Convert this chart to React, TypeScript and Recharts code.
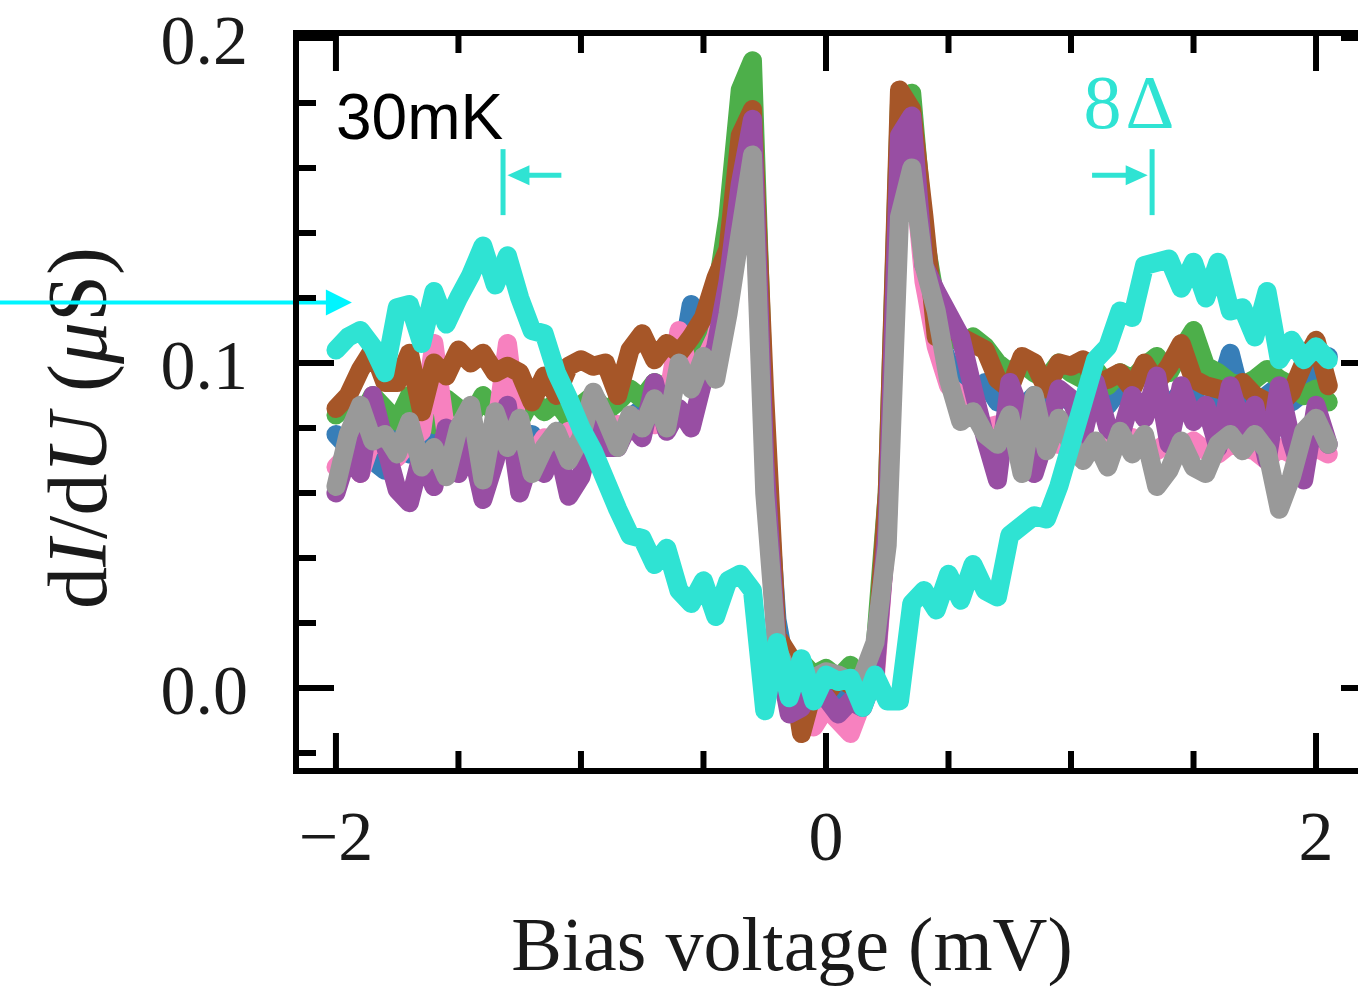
import { LineChart, Line, XAxis, YAxis, ReferenceLine } from "recharts";

// bias voltage grid (mV)
const bias = [
  -2.0, -1.95, -1.9, -1.85, -1.8, -1.75, -1.7, -1.65, -1.6, -1.55,
  -1.5, -1.45, -1.4, -1.35, -1.3, -1.25, -1.2, -1.15, -1.1, -1.05,
  -1.0, -0.95, -0.9, -0.85, -0.8, -0.75, -0.7, -0.65, -0.6, -0.55,
  -0.5, -0.45, -0.4, -0.35, -0.3, -0.25, -0.2, -0.15, -0.1, -0.05,
  0, 0.05, 0.1, 0.15, 0.2, 0.25, 0.3, 0.35, 0.4, 0.45,
  0.5, 0.55, 0.6, 0.65, 0.7, 0.75, 0.8, 0.85, 0.9, 0.95,
  1.0, 1.05, 1.1, 1.15, 1.2, 1.25, 1.3, 1.35, 1.4, 1.45,
  1.5, 1.55, 1.6, 1.65, 1.7, 1.75, 1.8, 1.85, 1.9, 1.95,
  2.0, 2.05,
];

// dI/dU traces (µS)
const blue = [
  0.078, 0.074, 0.08, 0.07, 0.067, 0.078, 0.072, 0.08, 0.075, 0.07,
  0.079, 0.073, 0.077, 0.071, 0.08, 0.074, 0.078, 0.072, 0.077, 0.081,
  0.075, 0.08, 0.084, 0.078, 0.083, 0.086, 0.085, 0.09, 0.096, 0.118,
  0.105, 0.11, 0.128, 0.15, 0.17, 0.075, 0.021, 0.0, 0.003, -0.004,
  0.002, 0.0, -0.003, 0.002, 0.006, 0.05, 0.16, 0.17, 0.13, 0.11,
  0.1, 0.098, 0.09, 0.094, 0.088, 0.092, 0.086, 0.09, 0.087, 0.091,
  0.088, 0.085, 0.09, 0.087, 0.092, 0.088, 0.085, 0.09, 0.087, 0.091,
  0.089, 0.086, 0.09, 0.103, 0.088, 0.085, 0.09, 0.093, 0.088, 0.091,
  0.1, 0.102,
];
const green = [
  0.084, 0.088, 0.083, 0.09, 0.086, 0.082, 0.09, 0.085, 0.081, 0.089,
  0.086, 0.083, 0.09, 0.084, 0.087, 0.082, 0.089, 0.085, 0.088, 0.083,
  0.087, 0.09, 0.085, 0.088, 0.092, 0.089, 0.094, 0.092, 0.097, 0.102,
  0.108, 0.12, 0.145, 0.184, 0.193, 0.08, 0.012, 0.005, 0.008, 0.004,
  0.006, 0.003, 0.007, 0.0, 0.012, 0.06, 0.18, 0.183, 0.14, 0.118,
  0.112, 0.106, 0.108, 0.105, 0.1, 0.097, 0.1, 0.097, 0.095, 0.1,
  0.097, 0.095, 0.098, 0.093, 0.097, 0.095, 0.099, 0.102, 0.097, 0.104,
  0.11, 0.099, 0.097, 0.094, 0.093, 0.095, 0.098, 0.095, 0.093, 0.09,
  0.092, 0.088,
];
const pink = [
  0.068, 0.072, 0.066, 0.077, 0.074, 0.071, 0.076, 0.079, 0.106, 0.078,
  0.073, 0.076, 0.072, 0.078, 0.106, 0.075, 0.071, 0.077, 0.074, 0.079,
  0.075, 0.08, 0.078, 0.081, 0.079, 0.083, 0.081, 0.087, 0.11, 0.095,
  0.1, 0.108, 0.122, 0.15, 0.165, 0.07, 0.01, 0.004, 0.0, -0.012,
  -0.006, -0.01, -0.014, -0.004, 0.002, 0.05, 0.16, 0.165, 0.125, 0.105,
  0.093, 0.09, 0.084, 0.08, 0.081, 0.078, 0.08, 0.076, 0.078, 0.075,
  0.077, 0.075, 0.074, 0.076, 0.075, 0.077, 0.074, 0.073, 0.076, 0.074,
  0.076, 0.073, 0.072, 0.075, 0.074, 0.073, 0.07, 0.074, 0.072, 0.071,
  0.074, 0.072,
];
const brown = [
  0.086, 0.09, 0.098, 0.104, 0.094, 0.094, 0.103, 0.085, 0.1, 0.096,
  0.104, 0.1, 0.103, 0.097, 0.099, 0.097, 0.088, 0.096, 0.09, 0.099,
  0.101, 0.099, 0.1, 0.09, 0.104, 0.109, 0.101, 0.106, 0.103, 0.108,
  0.114, 0.126, 0.135, 0.17, 0.178, 0.09, 0.016, 0.01, -0.014, 0.0,
  -0.002, 0.003, 0.001, -0.004, 0.005, 0.06, 0.184, 0.178, 0.145, 0.108,
  0.113, 0.108, 0.106, 0.104, 0.095, 0.092, 0.102, 0.1, 0.092, 0.1,
  0.099, 0.101, 0.094, 0.095, 0.097, 0.092, 0.1, 0.094, 0.099, 0.106,
  0.095, 0.093, 0.092, 0.091, 0.094, 0.09, 0.088, 0.087, 0.091, 0.1,
  0.107, 0.093,
];
const purple = [
  0.06, 0.072, 0.066, 0.09, 0.075, 0.061, 0.057, 0.072, 0.062, 0.08,
  0.066, 0.075, 0.058, 0.07, 0.087, 0.06, 0.072, 0.066, 0.076, 0.059,
  0.065, 0.08, 0.074, 0.074, 0.082, 0.077, 0.094, 0.079, 0.086, 0.08,
  0.095, 0.105, 0.125, 0.155, 0.175, 0.07, 0.012, -0.008, -0.006, 0.002,
  -0.003, -0.008, -0.004, -0.006, 0.004, 0.05, 0.17, 0.176, 0.13, 0.122,
  0.115, 0.108, 0.092, 0.077, 0.064, 0.094, 0.084, 0.066, 0.078, 0.092,
  0.089, 0.078, 0.094, 0.08, 0.077, 0.09, 0.083, 0.096, 0.075, 0.093,
  0.082, 0.087, 0.074, 0.093, 0.08, 0.087, 0.07, 0.093, 0.076, 0.064,
  0.087, 0.075,
];
const gray = [
  0.062, 0.078, 0.087, 0.076, 0.078, 0.072, 0.082, 0.068, 0.074, 0.065,
  0.08, 0.087, 0.064, 0.085, 0.074, 0.083, 0.066, 0.074, 0.079, 0.07,
  0.077, 0.091, 0.083, 0.074, 0.084, 0.08, 0.089, 0.08, 0.1, 0.092,
  0.102, 0.095, 0.115, 0.14, 0.164, 0.06, 0.012, 0.004, 0.004, 0.003,
  0.005, 0.004, 0.002, 0.004, 0.014, 0.044, 0.145, 0.16, 0.13, 0.116,
  0.095, 0.082, 0.085, 0.078, 0.075, 0.084, 0.066, 0.09, 0.073, 0.083,
  0.075, 0.07, 0.076, 0.068, 0.079, 0.072, 0.078, 0.062, 0.067, 0.076,
  0.068, 0.066, 0.075, 0.078, 0.073, 0.078, 0.073, 0.055, 0.065, 0.079,
  0.083, 0.075,
];
const cyan = [
  0.104, 0.108, 0.11, 0.105, 0.097, 0.117, 0.118, 0.106, 0.122, 0.112,
  0.12, 0.127, 0.136, 0.124, 0.133, 0.12, 0.11, 0.109, 0.097, 0.089,
  0.08, 0.073, 0.064, 0.055, 0.047, 0.046, 0.038, 0.043, 0.03, 0.026,
  0.033, 0.022, 0.033, 0.035, 0.03, -0.007, 0.014, -0.003, 0.009, -0.004,
  0.004, 0.002, 0.003, -0.006, 0.004, -0.004, -0.004, 0.026, 0.03, 0.024,
  0.035, 0.027, 0.038, 0.03, 0.028, 0.047, 0.05, 0.053, 0.052, 0.062,
  0.075, 0.088, 0.101, 0.105, 0.116, 0.114, 0.13, 0.131, 0.132, 0.123,
  0.131, 0.12, 0.131, 0.116, 0.117, 0.108, 0.122, 0.101, 0.107, 0.101,
  0.105, 0.101,
];

const xTicks = [-2, -1.5, -1, -0.5, 0, 0.5, 1, 1.5, 2];
const yTicks = [-0.02, 0, 0.02, 0.04, 0.06, 0.08, 0.1, 0.12, 0.14, 0.16, 0.18, 0.2];
const xTickLabels: Record<string, string> = { "-2": "\u22122", "0": "0", "2": "2" };
const yTickLabels: Record<string, string> = { "0": "0.0", "0.1": "0.1", "0.2": "0.2" };

const data = bias.map((x, i) => ({
  x,
  blue: blue[i],
  green: green[i],
  pink: pink[i],
  brown: brown[i],
  purple: purple[i],
  gray: gray[i],
  cyan: cyan[i],
}));

const series = [
  { key: "blue", color: "#377eb8" },
  { key: "green", color: "#4daf4a" },
  { key: "pink", color: "#f781bf" },
  { key: "brown", color: "#a65628" },
  { key: "purple", color: "#984ea3" },
  { key: "gray", color: "#999999" },
  { key: "cyan", color: "#2fe3d3" },
];

const TURQ = "#2fe3d3";
const SERIF = "'Liberation Serif', 'DejaVu Serif', serif";
const MAJOR = 38;
const MINOR = 20;
const TICK_W = 6;
const LINE_W = 19;
const X_DOMAIN: [number, number] = [-2.163, 2.257];
const Y_DOMAIN: [number, number] = [-0.02554, 0.20154];

const isMajorX = (v: number) => Math.abs(v / 2 - Math.round(v / 2)) < 1e-6;
const isMajorY = (v: number) => Math.abs(v * 10 - Math.round(v * 10)) < 1e-6;

const BottomTick = ({ x, y, payload }: any) => {
  const major = isMajorX(payload.value);
  const label = xTickLabels[String(payload.value)];
  return (
    <g>
      <line x1={x} x2={x} y1={y} y2={y - (major ? MAJOR : MINOR)} stroke="#000" strokeWidth={TICK_W} />
      {label && (
        <text x={x} y={y + 89} textAnchor="middle" fontFamily={SERIF} fontSize={70} fill="#1a1a1a">
          {label}
        </text>
      )}
    </g>
  );
};

const TopTick = ({ x, y, payload }: any) => {
  const major = isMajorX(payload.value);
  return <line x1={x} x2={x} y1={y} y2={y + (major ? MAJOR : MINOR)} stroke="#000" strokeWidth={TICK_W} />;
};

const LeftTick = ({ x, y, payload }: any) => {
  const major = isMajorY(payload.value);
  const label = yTickLabels[String(payload.value)];
  return (
    <g>
      <line x1={x} x2={x + (major ? MAJOR : MINOR)} y1={y} y2={y} stroke="#000" strokeWidth={TICK_W} />
      {label && (
        <text x={x - 48} y={y + 26} textAnchor="end" fontFamily={SERIF} fontSize={70} fill="#1a1a1a">
          {label}
        </text>
      )}
    </g>
  );
};

const RightTick = ({ x, y, payload }: any) => {
  const major = isMajorY(payload.value);
  return <line x1={x} x2={x - (major ? MAJOR : MINOR)} y1={y} y2={y} stroke="#000" strokeWidth={TICK_W} />;
};

// horizontal arrow drawn from (x1,y1) to the tip (x2,y2)
const Arrow = (p: any) => {
  const { x1, y1, x2, y2, stroke, strokeWidth } = p;
  const dir = x2 > x1 ? 1 : -1;
  const head = p.head ?? 22;
  const half = p.half ?? 10;
  return (
    <g>
      <line x1={x1} y1={y1} x2={x2 - dir * head * 0.7} y2={y2} stroke={stroke} strokeWidth={strokeWidth} />
      <polygon
        points={`${x2},${y2} ${x2 - dir * head},${y2 - half} ${x2 - dir * head},${y2 + half}`}
        fill={stroke}
      />
    </g>
  );
};

const axisLine = { stroke: "#000", strokeWidth: 6, strokeLinecap: "square" as const };

export default function App() {
  return (
    <div
      style={{
        position: "absolute",
        left: 0,
        top: 0,
        width: 1358,
        height: 991,
        overflow: "hidden",
        background: "#fff",
      }}
    >
      <LineChart width={1400} height={991} data={data} margin={{ top: 32, right: 20, bottom: 219, left: 295 }}>
        <XAxis
          dataKey="x"
          type="number"
          domain={X_DOMAIN}
          allowDataOverflow
          ticks={xTicks}
          height={1}
          tickSize={0}
          tickMargin={0}
          axisLine={axisLine}
          tickLine={false}
          tick={<BottomTick />}
          interval={0}
        />
        <XAxis
          xAxisId="top"
          orientation="top"
          dataKey="x"
          type="number"
          domain={X_DOMAIN}
          allowDataOverflow
          ticks={xTicks}
          height={1}
          tickSize={0}
          tickMargin={0}
          axisLine={axisLine}
          tickLine={false}
          tick={<TopTick />}
          interval={0}
        />
        <YAxis
          type="number"
          domain={Y_DOMAIN}
          allowDataOverflow
          ticks={yTicks}
          width={1}
          tickSize={0}
          tickMargin={0}
          axisLine={axisLine}
          tickLine={false}
          tick={<LeftTick />}
          interval={0}
        />
        <YAxis
          yAxisId="right"
          orientation="right"
          type="number"
          domain={Y_DOMAIN}
          allowDataOverflow
          ticks={yTicks}
          width={1}
          tickSize={0}
          tickMargin={0}
          axisLine={axisLine}
          tickLine={false}
          tick={<RightTick />}
          interval={0}
        />

        {series.map((s) => (
          <Line
            key={s.key}
            type="linear"
            dataKey={s.key}
            stroke={s.color}
            strokeWidth={LINE_W}
            strokeLinejoin="round"
            strokeLinecap="round"
            dot={false}
            activeDot={false}
            isAnimationActive={false}
          />
        ))}

        {/* 8Δ markers */}
        <ReferenceLine
          segment={[{ x: -1.318, y: 0.1455 }, { x: -1.318, y: 0.1658 }]}
          stroke={TURQ}
          strokeWidth={5}
          ifOverflow="visible"
        />
        <ReferenceLine
          segment={[{ x: -1.08, y: 0.1578 }, { x: -1.3, y: 0.1578 }]}
          stroke={TURQ}
          strokeWidth={5}
          ifOverflow="visible"
          shape={Arrow}
        />
        <ReferenceLine
          segment={[{ x: 1.331, y: 0.1455 }, { x: 1.331, y: 0.1658 }]}
          stroke={TURQ}
          strokeWidth={5}
          ifOverflow="visible"
        />
        <ReferenceLine
          segment={[{ x: 1.086, y: 0.1578 }, { x: 1.313, y: 0.1578 }]}
          stroke={TURQ}
          strokeWidth={5}
          ifOverflow="visible"
          shape={Arrow}
        />
        {/* pointer from outside the frame */}
        <ReferenceLine
          segment={[{ x: -3.375, y: 0.1186 }, { x: -1.935, y: 0.1186 }]}
          stroke="#00f5ff"
          strokeWidth={4}
          ifOverflow="visible"
          shape={(p: any) => <Arrow {...p} head={26} half={13} />}
        />

        <text x={336} y={139} fontFamily="'Liberation Sans', Arial, sans-serif" fontSize={64} fill="#000">
          30mK
        </text>
        <text
          x={1131}
          y={128}
          textAnchor="middle"
          fontFamily={SERIF}
          fontSize={76}
          letterSpacing={4}
          fill={TURQ}
        >
          8Δ
        </text>
        <text x={792} y={970} textAnchor="middle" fontFamily={SERIF} fontSize={76} fill="#1a1a1a">
          Bias voltage (mV)
        </text>
        <text
          transform="rotate(-90)"
          x={-428}
          y={106}
          textAnchor="middle"
          fontFamily={SERIF}
          fontSize={84}
          fill="#1a1a1a"
        >
          d<tspan fontStyle="italic">I</tspan>/d<tspan fontStyle="italic">U</tspan> (
          <tspan fontStyle="italic">μ</tspan>S)
        </text>
      </LineChart>
    </div>
  );
}
